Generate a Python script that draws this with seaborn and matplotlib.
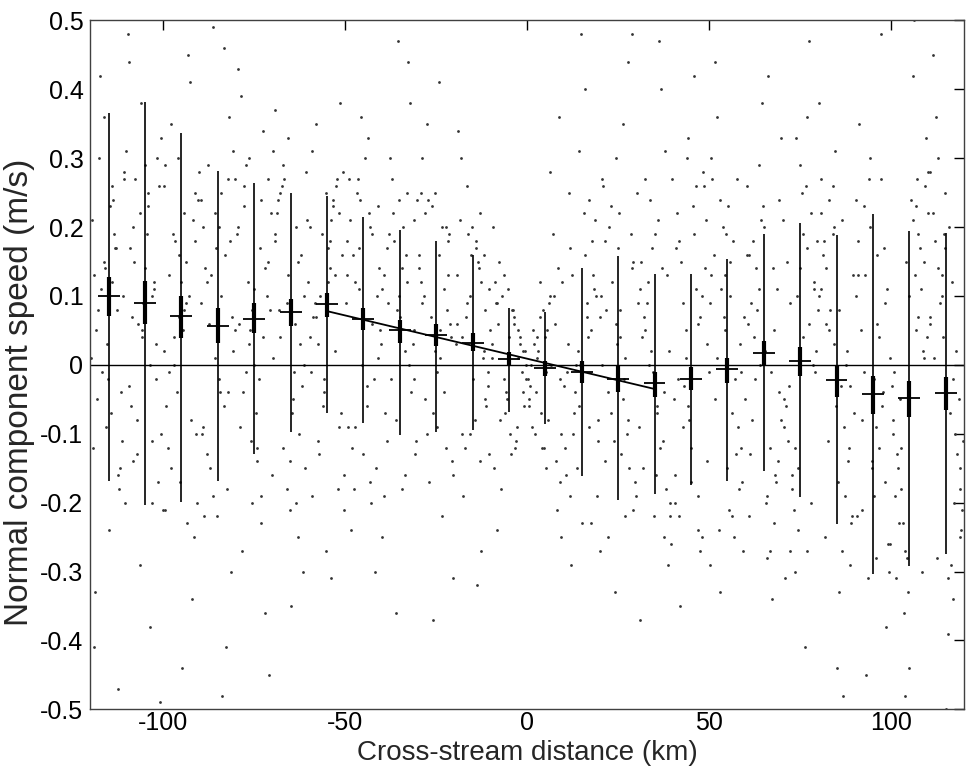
import numpy as np
import pandas as pd
import seaborn as sns
from matplotlib import pyplot as plt

# bin centres (km) and per-bin statistics
bin_x = [-115, -105, -95, -85, -75, -65, -55, -45, -35, -25, -15, -5,
         5, 15, 25, 35, 45, 55, 65, 75, 85, 95, 105, 115]
bin_mean = [0.100, 0.090, 0.071, 0.056, 0.067, 0.077, 0.088, 0.066, 0.050, 0.043, 0.032, 0.008,
            -0.004, -0.011, -0.020, -0.027, -0.020, -0.006, 0.017, 0.006, -0.022, -0.042, -0.048, -0.041]
std_top = [0.365, 0.381, 0.336, 0.282, 0.264, 0.250, 0.245, 0.215, 0.196, 0.180, 0.159, 0.083,
           0.077, 0.140, 0.158, 0.132, 0.132, 0.153, 0.190, 0.206, 0.188, 0.219, 0.195, 0.191]
std_bot = [-0.169, -0.203, -0.199, -0.169, -0.129, -0.098, -0.070, -0.085, -0.102, -0.097, -0.094, -0.069,
           -0.086, -0.162, -0.196, -0.188, -0.174, -0.168, -0.154, -0.192, -0.231, -0.303, -0.292, -0.274]
se_top = [0.128, 0.122, 0.100, 0.082, 0.090, 0.095, 0.105, 0.082, 0.065, 0.059, 0.046, 0.018,
          0.005, 0.005, -0.001, -0.011, -0.003, 0.010, 0.035, 0.026, -0.002, -0.016, -0.023, -0.017]
se_bot = [0.071, 0.059, 0.039, 0.032, 0.046, 0.056, 0.069, 0.050, 0.032, 0.027, 0.020, 0.000,
          -0.016, -0.027, -0.040, -0.046, -0.037, -0.026, -0.002, -0.016, -0.046, -0.071, -0.075, -0.066]

# linear fit drawn across the central bins
fit_x = [-55, 35]
fit_y = [0.078, -0.035]

# individual observations, wide spread (estimated from the scatter)
cloud_x = [
    -119.6, -118.1, -116.2, -114.2, -112.1, -110.7, -118.8, -115.4, -113.3, -111.4, -117.5, -114.8, -112.8, -110.3, -119.1, -116.9, -113.9, -111.8, -115.9, -112.4,
    -101.1, -107.2, -104.5, -109.4, -103.2, -105.7, -100.5, -108.3, -102.6, -106.5, -104.1, -109.8, -101.9, -107.9, -103.7, -105.1, -100.9, -108.6, -103.0, -106.1,
    -96.7, -92.7, -99.2, -90.2, -95.3, -93.6, -97.8, -91.5, -99.9, -94.4, -92.2, -98.5, -91.0, -96.0, -94.9, -97.1, -91.2, -99.4, -93.1, -95.6,
    -89.6, -88.1, -86.2, -84.2, -82.1, -80.7, -88.8, -85.4, -83.3, -81.4, -87.5, -84.8, -82.8, -80.3, -89.1, -86.9, -83.9, -81.8, -85.9, -82.4,
    -71.1, -77.2, -74.5, -79.4, -73.2, -75.7, -70.5, -78.3, -72.6, -76.5, -74.1, -79.8, -71.9, -77.9, -73.7, -75.1, -70.9, -78.6, -73.0, -76.1,
    -66.7, -62.7, -69.2, -60.2, -65.3, -63.6, -67.8, -61.5, -69.9, -64.4, -62.2, -68.5, -61.0, -66.0, -64.9, -67.1, -61.2, -69.4, -63.1, -65.6,
    -59.6, -58.1, -56.2, -54.2, -52.1, -50.7, -58.8, -55.4, -53.3, -51.4, -57.5, -54.8, -52.8, -50.3, -59.1, -56.9, -53.9, -51.8, -55.9, -52.4,
    -41.1, -47.2, -44.5, -49.4, -43.2, -45.7, -40.5, -48.3, -42.6, -46.5, -44.1, -49.8, -41.9, -47.9, -43.7, -45.1, -40.9, -48.6, -43.0, -46.1,
    -36.7, -32.7, -39.2, -30.2, -35.3, -33.6, -37.8, -31.5, -39.9, -34.4, -32.2, -38.5, -31.0, -36.0, -34.9, -37.1, -31.2, -39.4, -33.1, -35.6,
    -29.6, -28.1, -26.2, -24.2, -22.1, -20.7, -28.8, -25.4, -23.3, -21.4, -27.5, -24.8, -22.8, -20.3, -29.1, -26.9, -23.9, -21.8, -25.9, -22.4,
    -13.3, -13.0, -11.2, -16.4, -18.2, -10.6, -14.1, -12.0, -17.5, -10.4, -16.5, -14.8, -19.3, -12.7, -11.8, -15.6, -19.0, -17.9, -13.9, -15.2,
    -3.5, -1.2, -5.2, -0.6, -2.8, -7.8, -1.9, -4.4, -4.0, -0.3, -9.3, -6.1, -2.4, -7.2, -8.6, -3.1, -9.6, -8.2, -6.5, -5.5,
    0.8, 1.5, 2.2, 3.0, 3.6, 0.4, 4.4, 5.1, 1.1, 7.1, 5.8, 2.6, 8.1, 6.4, 6.2, 4.0, 7.6, 9.0, 8.8, 9.4,
    18.9, 12.8, 15.5, 10.6, 16.8, 14.3, 19.5, 11.7, 17.4, 13.5, 15.9, 10.2, 18.1, 12.1, 16.3, 14.9, 19.1, 11.4, 17.0, 13.9,
    23.3, 27.3, 20.8, 29.8, 24.7, 26.4, 22.2, 28.5, 20.1, 25.6, 27.8, 21.5, 29.0, 24.0, 25.1, 22.9, 28.8, 20.6, 26.9, 24.4,
    30.4, 31.9, 33.8, 35.8, 37.9, 39.3, 31.2, 34.6, 36.7, 38.6, 32.5, 35.2, 37.2, 39.7, 30.9, 33.1, 36.1, 38.2, 34.1, 37.6,
    48.9, 42.8, 45.5, 40.6, 46.8, 44.3, 49.5, 41.7, 47.4, 43.5, 45.9, 40.2, 48.1, 42.1, 46.3, 44.9, 49.1, 41.4, 47.0, 43.9,
    53.3, 57.3, 50.8, 59.8, 54.7, 56.4, 52.2, 58.5, 50.1, 55.6, 57.8, 51.5, 59.0, 54.0, 55.1, 52.9, 58.8, 50.6, 56.9, 54.4,
    60.4, 61.9, 63.8, 65.8, 67.9, 69.3, 61.2, 64.6, 66.7, 68.6, 62.5, 65.2, 67.2, 69.7, 60.9, 63.1, 66.1, 68.2, 64.1, 67.6,
    78.9, 72.8, 75.5, 70.6, 76.8, 74.3, 79.5, 71.7, 77.4, 73.5, 75.9, 70.2, 78.1, 72.1, 76.3, 74.9, 79.1, 71.4, 77.0, 73.9,
    83.3, 87.3, 80.8, 89.8, 84.7, 86.4, 82.2, 88.5, 80.1, 85.6, 87.8, 81.5, 89.0, 84.0, 85.1, 82.9, 88.8, 80.6, 86.9, 84.4,
    90.4, 91.9, 93.8, 95.8, 97.9, 99.3, 91.2, 94.6, 96.7, 98.6, 92.5, 95.2, 97.2, 99.7, 90.9, 93.1, 96.1, 98.2, 94.1, 97.6,
    108.9, 102.8, 105.5, 100.6, 106.8, 104.3, 109.5, 101.7, 107.4, 103.5, 105.9, 100.2, 108.1, 102.1, 106.3, 104.9, 109.1, 101.4, 107.0, 103.9,
    113.3, 117.3, 110.8, 119.8, 114.7, 116.4, 112.2, 118.5, 110.1, 115.6, 117.8, 111.5, 119.0, 114.0, 115.1, 112.9, 118.8, 110.6, 116.9, 114.4,
]
cloud_y = [
    0.21, -0.05, 0.36, 0.12, -0.18, 0.27, -0.33, 0.03, 0.17, -0.11, 0.42, -0.24, 0.08, 0.31, -0.41, -0.01, 0.24, -0.15, 0.14, -0.47,
    0.26, -0.08, 0.19, 0.44, -0.20, 0.05, 0.33, -0.14, 0.11, -0.29, 0.23, 0.48, -0.02, 0.15, -0.38, 0.29, -0.49, 0.07, -0.11, 0.38,
    0.18, 0.41, -0.06, 0.28, -0.17, 0.09, 0.35, -0.25, 0.02, 0.22, -0.34, 0.13, -0.10, 0.30, -0.44, 0.04, 0.25, -0.21, 0.45, 0.16,
    0.24, -0.13, 0.49, 0.10, -0.04, 0.31, -0.22, 0.17, 0.46, -0.30, 0.06, 0.20, -0.41, 0.27, -0.09, 0.13, -0.48, 0.36, 0.01, -0.18,
    0.15, 0.29, -0.07, 0.43, -0.19, 0.08, 0.22, -0.27, 0.34, 0.03, -0.12, 0.19, -0.36, 0.26, -0.02, 0.11, -0.45, 0.39, -0.23, 0.05,
    0.27, -0.10, 0.37, 0.12, -0.21, 0.20, 0.04, -0.30, 0.31, -0.05, 0.16, 0.24, -0.15, 0.09, -0.35, 0.29, 0.00, 0.18, -0.25, 0.33,
    0.20, 0.35, -0.06, 0.14, -0.18, 0.28, 0.07, -0.27, 0.24, 0.38, -0.11, 0.17, 0.02, -0.21, 0.31, 0.10, -0.31, 0.22, -0.02, 0.26,
    0.23, -0.09, 0.30, 0.13, -0.17, 0.36, 0.05, -0.24, 0.19, 0.27, -0.03, 0.09, -0.30, 0.16, 0.33, -0.13, 0.01, 0.21, -0.20, 0.11,
    0.18, 0.44, -0.07, 0.24, 0.10, -0.16, 0.30, 0.03, -0.25, 0.14, 0.38, -0.11, 0.21, -0.36, 0.07, 0.27, -0.02, -0.19, 0.12, 0.47,
    0.16, -0.05, 0.23, 0.41, 0.08, -0.14, 0.30, 0.02, -0.22, 0.19, 0.35, -0.09, 0.11, -0.31, 0.25, -0.17, 0.05, 0.13, -0.37, 0.20,
    0.14, 0.22, -0.06, 0.09, 0.30, -0.13, 0.18, 0.02, -0.19, 0.11, 0.26, -0.02, 0.06, -0.27, 0.16, -0.10, 0.34, 0.04, -0.32, 0.20,
    0.06, -0.04, 0.11, 0.02, -0.09, 0.15, 0.04, -0.13, 0.08, -0.02, 0.20, -0.07, 0.01, -0.18, 0.09, -0.11, 0.03, -0.24, 0.13, -0.05,
    -0.03, 0.05, -0.10, 0.02, 0.12, -0.06, 0.08, -0.15, 0.00, 0.19, -0.08, 0.04, -0.21, 0.10, 0.28, -0.12, 0.06, -0.02, 0.36, -0.25,
    0.10, -0.07, 0.22, -0.16, 0.04, 0.31, -0.11, 0.17, -0.23, 0.00, 0.40, -0.03, 0.13, -0.29, 0.07, 0.48, -0.19, 0.25, -0.09, 0.02,
    0.12, -0.10, 0.26, -0.19, 0.03, 0.35, -0.04, 0.19, -0.27, 0.08, 0.44, -0.14, 0.15, -0.33, 0.22, -0.07, 0.48, 0.00, -0.22, 0.30,
    0.09, -0.15, 0.24, -0.06, 0.31, -0.22, 0.15, -0.01, 0.40, -0.29, 0.05, 0.19, -0.11, 0.27, -0.37, 0.12, 0.47, -0.18, 0.02, -0.25,
    0.14, -0.09, 0.23, -0.20, 0.06, 0.33, -0.14, 0.18, -0.27, 0.01, 0.42, -0.05, 0.10, -0.35, 0.26, -0.17, 0.21, -0.02, -0.24, 0.30,
    0.11, -0.13, 0.27, -0.05, 0.19, -0.22, 0.36, 0.03, -0.29, 0.15, -0.09, 0.44, -0.17, 0.07, 0.23, -0.33, -0.01, 0.30, -0.25, 0.13,
    0.16, -0.08, 0.29, -0.19, 0.05, 0.24, -0.13, 0.38, -0.27, 0.11, -0.02, 0.20, -0.34, 0.33, -0.22, 0.08, 0.42, -0.16, 0.00, 0.14,
    0.12, -0.16, 0.25, -0.05, 0.36, -0.24, 0.18, -0.11, 0.47, -0.30, 0.04, 0.21, -0.20, 0.09, -0.41, 0.29, -0.01, 0.15, -0.27, 0.33,
    0.08, -0.19, 0.22, -0.07, 0.31, -0.27, 0.14, -0.12, 0.38, -0.33, 0.02, 0.18, -0.23, 0.26, -0.44, 0.05, -0.03, 0.11, -0.48, 0.20,
    0.10, -0.21, 0.27, -0.09, 0.17, -0.30, 0.35, -0.14, 0.04, -0.38, 0.23, -0.02, 0.48, -0.26, 0.13, -0.45, 0.06, -0.17, 0.30, -0.06,
    0.15, -0.18, 0.24, -0.08, 0.05, -0.28, 0.33, -0.13, 0.19, -0.36, 0.42, -0.03, 0.11, -0.23, 0.50, -0.44, 0.01, -0.31, 0.27, -0.48,
    0.09, -0.20, 0.28, -0.11, 0.17, -0.29, 0.36, -0.05, 0.22, -0.39, 0.02, 0.45, -0.15, 0.13, -0.50, 0.30, -0.25, 0.06, -0.34, 0.19,
]

# individual observations, dense core band of each bin
core_x = [
    -118.4, -113.4, -115.8, -110.9, -117.2, -112.3, -119.7, -114.7, -111.7, -116.4, -110.4, -118.0, -114.0, -119.3, -112.9, -115.2, -111.1, -117.6, -114.3, -119.0,
    -102.5, -109.5, -104.1, -106.8, -101.3, -108.2, -103.5, -105.5, -100.6, -107.7, -105.0, -108.9, -102.1, -106.3, -100.1, -109.1, -103.1, -107.3, -101.6, -105.9,
    -95.7, -91.9, -98.6, -93.7, -97.0, -90.8, -99.8, -93.0, -96.1, -91.2, -97.9, -94.5, -99.4, -92.4, -95.1, -90.5, -98.3, -93.4, -97.4, -94.2,
    -88.4, -83.4, -85.8, -80.9, -87.2, -82.3, -89.7, -84.7, -81.7, -86.4, -80.4, -88.0, -84.0, -89.3, -82.9, -85.2, -81.1, -87.6, -84.3, -89.0,
    -72.5, -79.5, -74.1, -76.8, -71.3, -78.2, -73.5, -75.5, -70.6, -77.7, -75.0, -78.9, -72.1, -76.3, -70.1, -79.1, -73.1, -77.3, -71.6, -75.9,
    -65.7, -61.9, -68.6, -63.7, -67.0, -60.8, -69.8, -63.0, -66.1, -61.2, -67.9, -64.5, -69.4, -62.4, -65.1, -60.5, -68.3, -63.4, -67.4, -64.2,
    -58.4, -53.4, -55.8, -50.9, -57.2, -52.3, -59.7, -54.7, -51.7, -56.4, -50.4, -58.0, -54.0, -59.3, -52.9, -55.2, -51.1, -57.6, -54.3, -59.0,
    -42.5, -49.5, -44.1, -46.8, -41.3, -48.2, -43.5, -45.5, -40.6, -47.7, -45.0, -48.9, -42.1, -46.3, -40.1, -49.1, -43.1, -47.3, -41.6, -45.9,
    -35.7, -31.9, -38.6, -33.7, -37.0, -30.8, -39.8, -33.0, -36.1, -31.2, -37.9, -34.5, -39.4, -32.4, -35.1, -30.5, -38.3, -33.4, -37.4, -34.2,
    -28.4, -23.4, -25.8, -20.9, -27.2, -22.3, -29.7, -24.7, -21.7, -26.4, -20.4, -28.0, -24.0, -29.3, -22.9, -25.2, -21.1, -27.6, -24.3, -29.0,
    -11.5, -10.9, -13.6, -12.2, -16.3, -14.4, -12.8, -10.2, -17.1, -14.0, -19.6, -11.7, -15.8, -18.5, -13.1, -16.9, -19.2, -10.7, -15.3, -18.0,
    -2.1, -0.9, -3.6, -1.5, -6.8, -4.7, -2.6, -0.4, -5.9, -4.2, -7.5, -1.1, -8.9, -3.3, -5.0, -6.3, -7.9, -9.1, -8.3, -9.7,
    0.6, 1.9, 1.3, 2.8, 3.4, 4.6, 0.2, 5.5, 3.9, 7.4, 2.4, 6.6, 8.5, 7.9, 4.9, 9.2, 6.0, 8.9, 9.7, 5.2,
    17.5, 10.5, 15.9, 13.2, 18.7, 11.8, 16.5, 14.5, 19.4, 12.3, 15.0, 11.1, 17.9, 13.7, 19.9, 10.9, 16.9, 12.7, 18.4, 14.1,
    24.3, 28.1, 21.4, 26.3, 23.0, 29.2, 20.2, 27.0, 23.9, 28.8, 22.1, 25.5, 20.6, 27.6, 24.9, 29.5, 21.7, 26.6, 22.6, 25.8,
    31.6, 36.6, 34.2, 39.1, 32.8, 37.7, 30.3, 35.3, 38.3, 33.6, 39.6, 32.0, 36.0, 30.7, 37.1, 34.8, 38.9, 32.4, 35.7, 31.0,
    47.5, 40.5, 45.9, 43.2, 48.7, 41.8, 46.5, 44.5, 49.4, 42.3, 45.0, 41.1, 47.9, 43.7, 49.9, 40.9, 46.9, 42.7, 48.4, 44.1,
    54.3, 58.1, 51.4, 56.3, 53.0, 59.2, 50.2, 57.0, 53.9, 58.8, 52.1, 55.5, 50.6, 57.6, 54.9, 59.5, 51.7, 56.6, 52.6, 55.8,
    61.6, 66.6, 64.2, 69.1, 62.8, 67.7, 60.3, 65.3, 68.3, 63.6, 69.6, 62.0, 66.0, 60.7, 67.1, 64.8, 68.9, 62.4, 65.7, 61.0,
    77.5, 70.5, 75.9, 73.2, 78.7, 71.8, 76.5, 74.5, 79.4, 72.3, 75.0, 71.1, 77.9, 73.7, 79.9, 70.9, 76.9, 72.7, 78.4, 74.1,
    84.3, 88.1, 81.4, 86.3, 83.0, 89.2, 80.2, 87.0, 83.9, 88.8, 82.1, 85.5, 80.6, 87.6, 84.9, 89.5, 81.7, 86.6, 82.6, 85.8,
    91.6, 96.6, 94.2, 99.1, 92.8, 97.7, 90.3, 95.3, 98.3, 93.6, 99.6, 92.0, 96.0, 90.7, 97.1, 94.8, 98.9, 92.4, 95.7, 91.0,
    107.5, 100.5, 105.9, 103.2, 108.7, 101.8, 106.5, 104.5, 109.4, 102.3, 105.0, 101.1, 107.9, 103.7, 109.9, 100.9, 106.9, 102.7, 108.4, 104.1,
    114.3, 118.1, 111.4, 116.3, 113.0, 119.2, 110.2, 117.0, 113.9, 118.8, 112.1, 115.5, 110.6, 117.6, 114.9, 119.5, 111.7, 116.6, 112.6, 115.8,
]
core_y = [
    0.05, 0.19, -0.09, 0.28, 0.11, -0.16, 0.01, 0.23, -0.04, 0.15, -0.20, 0.08, 0.26, -0.12, 0.17, -0.02, 0.10, 0.30, -0.07, 0.13,
    0.12, -0.03, 0.25, 0.06, -0.17, 0.20, 0.00, 0.09, -0.10, 0.27, 0.14, -0.06, 0.03, 0.22, -0.21, 0.17, 0.10, -0.13, 0.30, 0.04,
    0.07, 0.21, -0.12, 0.15, 0.00, -0.20, 0.26, 0.10, -0.04, 0.18, -0.15, 0.05, 0.29, -0.08, 0.12, 0.24, -0.01, -0.23, 0.19, 0.08,
    0.14, -0.06, 0.22, 0.02, -0.15, 0.27, 0.09, -0.02, 0.18, -0.19, 0.05, 0.12, 0.25, -0.10, 0.16, -0.22, 0.07, 0.29, -0.04, 0.20,
    0.04, 0.20, -0.14, 0.12, 0.27, -0.04, 0.17, -0.20, 0.08, 0.23, 0.00, -0.09, 0.14, 0.30, -0.16, 0.06, 0.24, -0.01, 0.10, -0.11,
    0.13, -0.03, 0.22, 0.06, -0.12, 0.28, 0.01, 0.15, -0.18, 0.10, 0.25, -0.07, 0.19, 0.03, -0.14, 0.21, 0.08, -0.20, 0.26, -0.01,
    0.09, 0.23, -0.04, 0.16, -0.13, 0.27, 0.04, 0.12, -0.09, 0.19, -0.16, 0.07, 0.21, -0.01, 0.13, 0.25, -0.07, 0.03, 0.18, -0.19,
    0.06, 0.18, -0.06, 0.25, 0.10, -0.12, 0.22, 0.00, 0.14, -0.18, 0.08, 0.27, -0.02, 0.17, 0.03, -0.09, 0.20, 0.12, -0.15, 0.24,
    0.08, -0.04, 0.17, 0.02, 0.22, -0.13, 0.11, 0.25, -0.08, 0.05, 0.19, -0.18, 0.13, 0.00, 0.24, -0.11, 0.09, 0.16, -0.02, 0.20,
    0.10, 0.20, -0.07, 0.04, 0.24, -0.12, 0.14, -0.01, 0.18, 0.07, -0.16, 0.22, 0.01, 0.12, -0.04, 0.25, 0.06, -0.10, 0.16, 0.09,
    0.08, -0.03, 0.15, 0.01, 0.19, -0.08, 0.12, 0.05, -0.12, 0.17, 0.03, -0.05, 0.10, 0.21, -0.14, 0.07, 0.13, -0.01, 0.16, -0.10,
    0.03, -0.06, 0.07, -0.01, 0.10, -0.10, 0.05, 0.00, -0.04, 0.08, -0.08, 0.02, 0.12, -0.12, 0.04, -0.02, 0.06, -0.15, 0.09, 0.01,
    -0.05, 0.03, -0.09, 0.01, 0.07, -0.12, -0.02, 0.05, -0.07, 0.10, -0.04, 0.00, 0.14, -0.14, 0.04, -0.10, 0.09, -0.17, 0.12, -0.01,
    0.05, -0.12, 0.16, -0.04, 0.21, -0.19, 0.09, 0.00, -0.08, 0.13, -0.23, 0.03, 0.18, -0.15, 0.07, -0.01, 0.24, -0.10, 0.11, -0.06,
    0.06, -0.15, 0.18, -0.05, 0.23, -0.21, 0.10, 0.01, -0.11, 0.14, -0.25, 0.04, 0.27, -0.08, 0.17, -0.17, 0.08, -0.02, 0.20, -0.13,
    0.04, -0.12, 0.17, -0.20, 0.09, -0.04, 0.25, -0.16, 0.13, 0.00, -0.26, 0.07, 0.21, -0.09, 0.14, -0.22, 0.02, 0.27, -0.07, 0.11,
    0.07, -0.16, 0.19, -0.03, 0.26, -0.22, 0.11, -0.08, 0.03, 0.15, -0.12, 0.22, -0.25, 0.05, -0.01, 0.17, -0.19, 0.09, 0.28, -0.06,
    0.05, -0.18, 0.16, -0.07, 0.24, -0.27, 0.09, -0.02, 0.20, -0.12, 0.01, -0.21, 0.13, 0.27, -0.15, 0.07, -0.05, 0.18, -0.24, 0.10,
    0.09, -0.12, 0.21, -0.04, 0.14, -0.23, 0.26, 0.02, -0.17, 0.11, -0.08, 0.18, -0.28, 0.06, -0.01, 0.23, -0.14, 0.04, -0.20, 0.16,
    0.06, -0.09, 0.19, -0.21, 0.11, -0.03, 0.26, -0.15, 0.02, -0.27, 0.14, -0.06, 0.22, -0.12, 0.08, -0.31, 0.17, -0.18, 0.00, 0.10,
    0.03, -0.14, 0.16, -0.03, 0.24, -0.22, 0.10, -0.09, 0.19, -0.29, 0.06, -0.17, 0.27, 0.00, -0.06, 0.13, -0.25, 0.21, -0.11, 0.08,
    0.05, -0.12, 0.20, -0.26, 0.13, -0.04, 0.24, -0.19, 0.09, -0.31, 0.01, -0.08, 0.16, -0.22, 0.27, -0.15, 0.11, -0.01, -0.28, 0.18,
    0.07, -0.10, 0.21, -0.23, 0.02, -0.15, 0.13, -0.33, 0.26, -0.05, 0.10, -0.19, 0.17, -0.27, 0.04, -0.01, 0.23, -0.12, -0.30, 0.15,
    0.04, -0.13, 0.22, -0.07, 0.14, -0.24, 0.28, -0.02, 0.10, -0.18, 0.18, -0.31, 0.07, -0.10, 0.25, -0.21, 0.01, 0.12, -0.28, 0.20,
]

x_ticks = [-100, -50, 0, 50, 100]
x_tick_labels = ["-100", "-50", "0", "50", "100"]
y_ticks = [-0.5, -0.4, -0.3, -0.2, -0.1, 0, 0.1, 0.2, 0.3, 0.4, 0.5]
y_tick_labels = ["-0.5", "-0.4", "-0.3", "-0.2", "-0.1", "0", "0.1", "0.2", "0.3", "0.4", "0.5"]

sns.set_theme(style="white")
plt.rcParams["font.family"] = ["Liberation Sans", "DejaVu Sans"]
plt.rcParams["axes.unicode_minus"] = False

cloud = pd.DataFrame({"x": cloud_x + core_x, "y": cloud_y + core_y})
stats = pd.DataFrame({"x": bin_x, "mean": bin_mean, "lo": std_bot, "hi": std_top,
                      "se_lo": se_bot, "se_hi": se_top})

fig = plt.figure(figsize=(9.69, 7.67), dpi=100)
ax = fig.add_axes([0.0933, 0.0752, 0.9015, 0.8982])

sns.scatterplot(data=cloud, x="x", y="y", ax=ax, s=4, color="0.2",
                linewidth=0, legend=False, zorder=1)

ax.axhline(0, color="black", lw=1.0, zorder=2)

# standard deviation (thin) and standard error (thick) bars, mean ticks
ax.vlines(stats["x"], stats["lo"], stats["hi"], color="black", lw=1.2, zorder=3)
ax.vlines(stats["x"], stats["se_lo"], stats["se_hi"], color="black", lw=3.0, zorder=3)
ax.hlines(stats["mean"], stats["x"] - 3, stats["x"] + 3, color="black", lw=1.3, zorder=3)

sns.lineplot(x=fit_x, y=fit_y, ax=ax, color="black", lw=1.3, zorder=4)

ax.set_xlim(-120, 120)
ax.set_ylim(-0.5, 0.5)
ax.set_xticks(x_ticks)
ax.set_xticklabels(x_tick_labels)
ax.set_yticks(y_ticks)
ax.set_yticklabels(y_tick_labels)
ax.tick_params(direction="in", length=7, width=1, colors="black", labelsize=18,
               top=True, right=True)
ax.tick_params(axis="x", pad=1.5)
ax.tick_params(axis="y", pad=5)
for sp in ax.spines.values():
    sp.set_color("0.25")
    sp.set_linewidth(1.0)

ax.set_xlabel("Cross-stream distance (km)", fontsize=20, labelpad=3)
ax.set_ylabel("Normal component speed (m/s)", fontsize=24)
ax.yaxis.set_label_coords(-0.064, 0.46)

fig.savefig("out.png", dpi=100)
